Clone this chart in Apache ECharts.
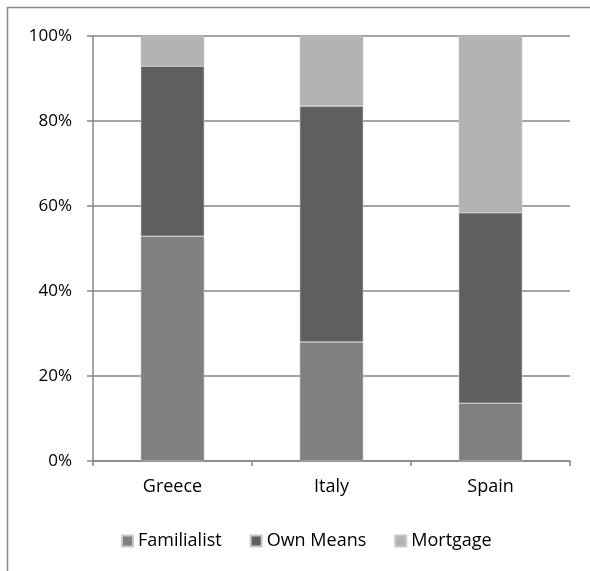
<!DOCTYPE html>
<html><head><meta charset="utf-8">
<script src="https://cdn.jsdelivr.net/npm/echarts@6/dist/echarts.min.js"></script>
<style>html,body{margin:0;padding:0;background:#fff}#c{width:590px;height:571px}</style>
</head><body><div id="c"></div>
<script>
const categories = ['Greece', 'Italy', 'Spain'];
const familialist = [52.9, 28.0, 13.6];
const ownMeans = [40.0, 55.5, 44.8];
const mortgage = [7.1, 16.5, 41.6];
const yTicks = [0, 20, 40, 60, 80, 100];

const chart = echarts.init(document.getElementById('c'));
const font = '"Open Sans", sans-serif';
function bar(name, data, color) {
  return {
    name, type: 'bar', stack: 'total', data, barWidth: '40%',
    itemStyle: { color, borderColor: '#c8c8c8', borderWidth: 0.6 },
    emphasis: { disabled: true }
  };
}
chart.setOption({
  animation: false,
  textStyle: { fontFamily: font },
  graphic: [{ type: 'rect', shape: { x: 7.5, y: 7.5, width: 700, height: 700 },
    style: { fill: 'none', stroke: '#8a8a8a', lineWidth: 1.5 }, silent: true }],
  grid: { left: 93, right: 20, top: 36, bottom: 110 },
  legend: {
    bottom: 16, left: 116, itemWidth: 11, itemHeight: 11, itemGap: 28,
    icon: 'rect',
    textStyle: { fontSize: 18, color: '#000', fontFamily: font },
    data: ['Familialist', 'Own Means', 'Mortgage']
  },
  xAxis: {
    type: 'category', data: categories,
    axisLine: { lineStyle: { color: '#868686', width: 1.5 } },
    axisTick: { show: true, length: 5, lineStyle: { color: '#868686', width: 1.5 } },
    axisLabel: { fontSize: 18, color: '#000', margin: 17, fontFamily: font }
  },
  yAxis: {
    type: 'value', min: 0, max: 100, interval: 20,
    axisLine: { show: true, lineStyle: { color: '#868686', width: 1.5 } },
    axisTick: { show: true, length: 6, lineStyle: { color: '#868686', width: 1.5 } },
    splitLine: { lineStyle: { color: '#868686', width: 1.5 } },
    axisLabel: { fontSize: 17, color: '#000', margin: 21, fontFamily: font,
      formatter: v => yTicks.includes(v) ? v + '%' : '' }
  },
  series: [
    bar('Familialist', familialist, '#808080'),
    bar('Own Means', ownMeans, '#5f5f5f'),
    bar('Mortgage', mortgage, '#b3b3b3')
  ]
});
</script></body></html>
